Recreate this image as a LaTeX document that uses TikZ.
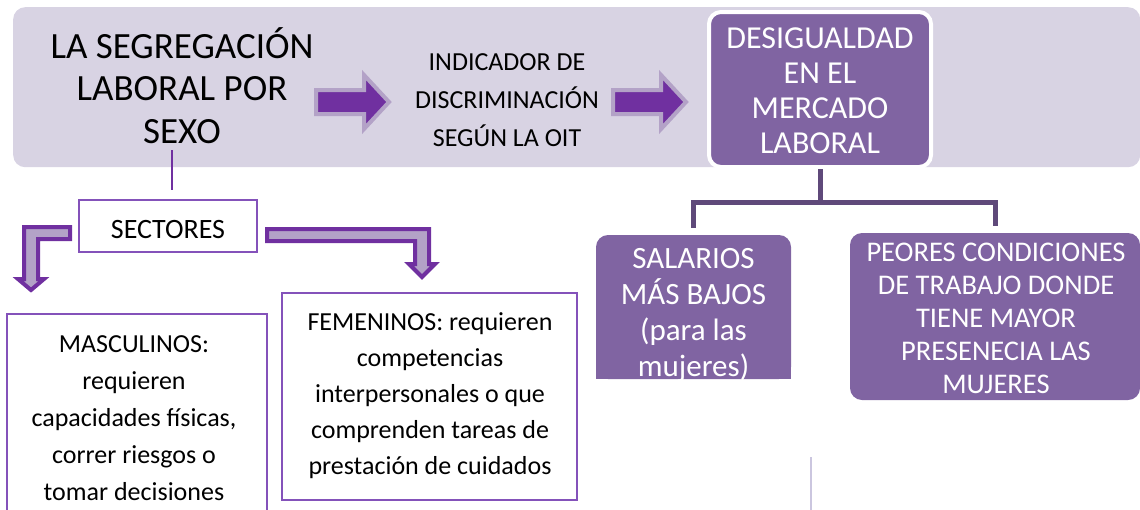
\documentclass[tikz,border=0pt]{standalone}
\usepackage{fontspec}
\setmainfont{Carlito}
\definecolor{bandc}{HTML}{D8D3E3}
\definecolor{boxp}{HTML}{8064A2}
\definecolor{connc}{HTML}{5F497A}
\definecolor{arrowdark}{HTML}{7030A0}
\definecolor{arrowlight}{HTML}{B3A2C7}
\definecolor{thinb}{HTML}{8452BA}
\definecolor{faintc}{HTML}{CBC6DF}
\tikzset{
  blacktext/.style={align=center, text=black, inner sep=0pt},
  whitetext/.style={align=center, text=white, inner sep=0pt},
  outlinebox/.style={draw=thinb, line width=1.2pt, fill=white, inner sep=0pt},
  purplebox/.style={fill=boxp, rounded corners=12pt, inner sep=0pt},
  conn/.style={draw=connc, line width=5pt, line join=miter},
  thinconn/.style={draw=arrowdark, line width=1.6pt},
  bentarrow/.style={draw=arrowdark, fill=arrowlight, line width=4pt, line join=miter},
  blockarrow/.pic={\filldraw[fill=arrowdark, draw=arrowlight, line width=4pt, line join=miter]
     (3,-12) -- (51,-12) -- (51,-27) -- (76,0) -- (51,27) -- (51,12) -- (3,12) -- cycle;}
}
\begin{document}
\begin{tikzpicture}[x=1pt,y=-1pt]
\useasboundingbox (0,0) rectangle (1140,509);
\clip (0,0) rectangle (1140,509);
% band
\node[fill=bandc, rounded corners=12pt, minimum width=1127pt, minimum height=160pt, anchor=north west, inner sep=0pt] (band) at (13,7) {};
% title
\node[blacktext, font=\fontsize{37}{42.5}\selectfont] (title) at (182,85.5) {LA SEGREGACIÓN\\LABORAL POR\\SEXO};
\pic at (313,102) {blockarrow};
\node[blacktext, font=\fontsize{26}{38}\selectfont] (indic) at (507,100) {INDICADOR DE\\DISCRIMINACIÓN\\SEGÚN LA OIT};
\pic at (610,102) {blockarrow};
% desigualdad
\node[purplebox, draw=white, line width=4pt, minimum width=222pt, minimum height=155pt] (des) at (820,89.5) {};
\node[whitetext, font=\fontsize{32}{35}\selectfont] (destxt) at (820,91) {DESIGUALDAD\\EN EL\\MERCADO\\LABORAL};
% salarios
\fill[boxp] (596,360) rectangle (791,379);
\node[purplebox, minimum width=195pt, minimum height=144pt] (sal) at (693.5,307) {};
\node[whitetext, font=\fontsize{31}{36}\selectfont] (saltxt) at (693.5,315) {SALARIOS\\MÁS BAJOS\\(para las\\mujeres)};
% peores
\node[purplebox, minimum width=290pt, minimum height=167pt] (peo) at (995,316.5) {};
\node[whitetext, font=\fontsize{28.5}{33}\selectfont] (peotxt) at (996,318) {PEORES CONDICIONES\\DE TRABAJO DONDE\\TIENE MAYOR\\PRESENECIA LAS\\MUJERES};
% connectors
\coordinate (junc) at (820,202);
\draw[conn] (des.south) -- (junc) -| ([yshift=7pt]sal.north);
\draw[conn] (junc) -| ([yshift=7pt]peo.north);
% sectores
\node[outlinebox, minimum width=178pt, minimum height=52pt] (sect) at (168,226) {};
\node[blacktext, font=\fontsize{28}{33}\selectfont] (secttxt) at (168,230) {SECTORES};
\coordinate (tbot) at (172,150);
\draw[thinconn] (tbot) -- (tbot |- 0,190);
% bent arrows
\draw[bentarrow] (70,227) -- (24,227) -- (24,279) -- (18,279) -- (31,290) -- (44,279) -- (38,279) -- (38,239) -- (70,239) -- cycle;
\draw[bentarrow] (267,229) -- (429,229) -- (429,264) -- (435,264) -- (422,277) -- (409,264) -- (415,264) -- (415,241) -- (267,241) -- cycle;
% masculinos
\draw[outlinebox] (7,314) rectangle (267,530);
\node[blacktext, font=\fontsize{26}{37}\selectfont] (masc) at (134,418) {MASCULINOS:\\requieren\\capacidades físicas,\\correr riesgos o\\tomar decisiones};
% femeninos
\node[outlinebox, minimum width=295pt, minimum height=207pt] (fem) at (429.5,396.5) {};
\node[blacktext, font=\fontsize{26}{36}\selectfont] (femtxt) at (430,396) {FEMENINOS: requieren\\competencias\\interpersonales o que\\comprenden tareas de\\prestación de cuidados};
% faint line
\coordinate (fa) at (811,457);
\coordinate (fb) at (811,512);
\draw[faintc, line width=1.2pt] (fa) -- (fb);
\end{tikzpicture}
\end{document}
